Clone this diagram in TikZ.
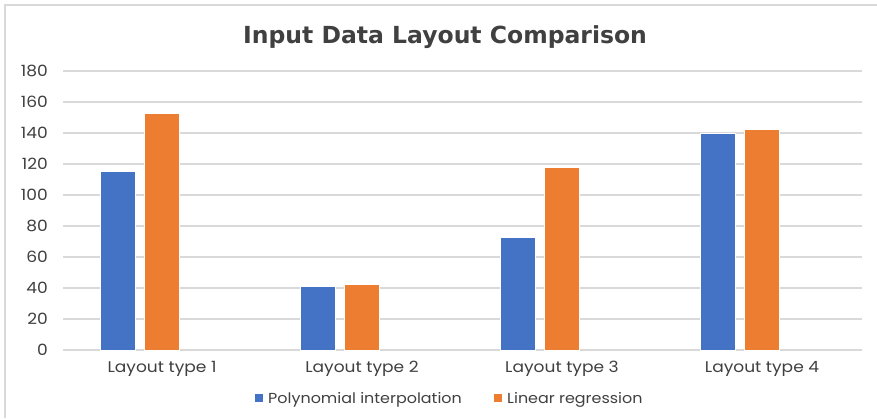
\documentclass[tikz,border=0pt]{standalone}
\usepackage{fontspec}
\setmainfont{Poppins}
\newfontfamily\lblfont[FakeStretch=1.1]{Poppins}
\newfontfamily\titlefont{DejaVu Sans}
\definecolor{serA}{HTML}{4472C4}
\definecolor{serB}{HTML}{ED7D31}
\definecolor{gridc}{HTML}{D9D9D9}
\definecolor{txtc}{HTML}{404040}
\definecolor{framec}{HTML}{D9D9D9}
\begin{document}
\begin{tikzpicture}[x=1pt,y=-1pt,
  grid/.style={draw=gridc,line width=1.2pt},
  barA/.style={fill=serA,draw=white,line width=0.6pt},
  barB/.style={fill=serB,draw=white,line width=0.6pt},
  ylab/.style={anchor=east,text=txtc,font=\lblfont\fontsize{15.5}{18}\selectfont,inner sep=0pt},
  xlab/.style={anchor=center,text=txtc,font=\lblfont\fontsize{15.5}{18}\selectfont,inner sep=0pt},
  leg/.style={anchor=west,text=txtc,font=\lblfont\fontsize{14.5}{17}\selectfont,inner sep=0pt}]
\useasboundingbox (0,0) rectangle (877,418);
\fill[white] (0,0) rectangle (877,418);
\draw[framec,line width=1.5pt] (5,418) -- (5,5) -- (877,5);
\node[text=txtc,anchor=base,inner sep=0pt,font=\titlefont\bfseries\fontsize{23.5}{28}\selectfont] (title) at (445,43) {Input Data Layout Comparison};
% grid: 0 -> y=350, 20 units -> 31 px
\foreach \v in {0,20,...,180}{
  \pgfmathsetmacro{\yy}{350-\v*1.55}
  \coordinate (gl\v) at (63,\yy);
  \coordinate (gr\v) at (862,\yy);
  \draw[grid] (gl\v) -- (gr\v);
  \node[ylab] (y\v) at (48,\yy) {\v};
}
% bars
\newcommand\barpair[4]{%
  \pgfmathsetmacro{\ya}{350-#2*1.55}
  \pgfmathsetmacro{\yb}{350-#3*1.55}
  \draw[barA] (#1,350) rectangle (#1+35,\ya);
  \draw[barB] (#1+44,350) rectangle (#1+79,\yb);
  \node[xlab] (c#4) at (#1+62,369) {Layout type #4};
}
\barpair{100}{115}{152.5}{1}
\barpair{300}{40.8}{42.5}{2}
\barpair{500}{73}{118}{3}
\barpair{700}{139.5}{142.5}{4}
% legend
\fill[serA] (255,394) rectangle (263,402);
\node[leg] (la) at (268,400) {Polynomial interpolation};
\fill[serB] (494,394) rectangle (502,402);
\node[leg] (lb) at (507,400) {Linear regression};
\end{tikzpicture}
\end{document}
